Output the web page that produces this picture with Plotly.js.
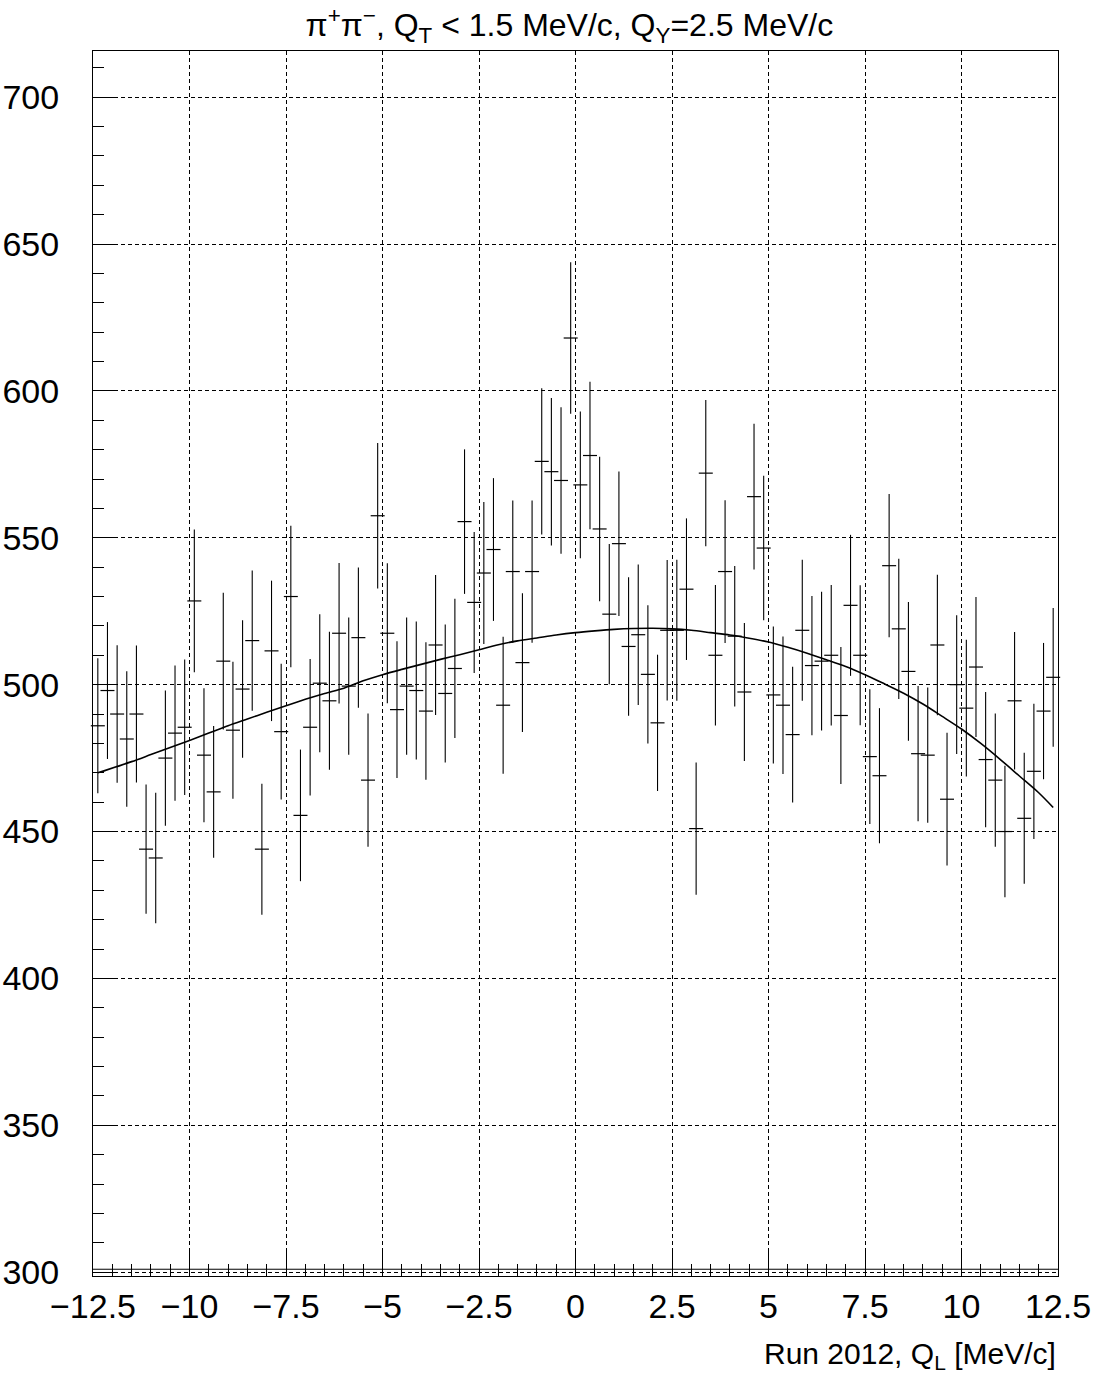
<!DOCTYPE html>
<html>
<head>
<meta charset="utf-8">
<script src="https://cdn.plot.ly/plotly-3.0.1.min.js"></script>
<style>
  html, body { margin: 0; padding: 0; background: #ffffff; }
  #chart { width: 1095px; height: 1381px; }
</style>
</head>
<body>
<div id="chart"></div>
<script>
// Bin centres (Q_L, MeV/c)
var binCenters = [
  -12.375, -12.125, -11.875, -11.625, -11.375, -11.125, -10.875, -10.625, -10.375, -10.125,
  -9.875, -9.625, -9.375, -9.125, -8.875, -8.625, -8.375, -8.125, -7.875, -7.625,
  -7.375, -7.125, -6.875, -6.625, -6.375, -6.125, -5.875, -5.625, -5.375, -5.125,
  -4.875, -4.625, -4.375, -4.125, -3.875, -3.625, -3.375, -3.125, -2.875, -2.625,
  -2.375, -2.125, -1.875, -1.625, -1.375, -1.125, -0.875, -0.625, -0.375, -0.125,
  0.125, 0.375, 0.625, 0.875, 1.125, 1.375, 1.625, 1.875, 2.125, 2.375,
  2.625, 2.875, 3.125, 3.375, 3.625, 3.875, 4.125, 4.375, 4.625, 4.875,
  5.125, 5.375, 5.625, 5.875, 6.125, 6.375, 6.625, 6.875, 7.125, 7.375,
  7.625, 7.875, 8.125, 8.375, 8.625, 8.875, 9.125, 9.375, 9.625, 9.875,
  10.125, 10.375, 10.625, 10.875, 11.125, 11.375, 11.625, 11.875, 12.125, 12.375
];

// Counts per bin
var counts = [
  486, 498, 490, 481.5, 490, 444, 441, 475, 483.5, 485.5,
  528.5, 476, 463.5, 508, 484.5, 498.5, 515, 444, 511.5, 484,
  530, 455.5, 485.5, 500.5, 494.5, 517.5, 499.5, 516, 467.5, 557.5,
  517.5, 491.5, 499.5, 498, 491, 513.5, 497, 505.5, 555.5, 528,
  538, 546, 493, 538.5, 507.5, 538.5, 576, 572.5, 569.5, 618,
  568, 578, 553, 524, 548, 513, 517, 503.5, 487, 518.5,
  518.5, 532.5, 451, 572, 510, 538.5, 516.5, 497.5, 564, 546.5,
  496.5, 493, 483, 518.5, 506.5, 508, 510, 489.5, 527, 510,
  475.5, 469, 540.5, 519, 504.5, 476.5, 476, 513.5, 461, 500,
  492, 506, 474.5, 467.5, 450, 494.5, 454.5, 470.5, 491, 502.5
];

// Error bar half-lengths per bin
var errors = [
  23.0, 23.3, 23.4, 23.1, 23.3, 22.0, 22.2, 23.0, 23.0, 23.1,
  24.3, 22.8, 22.4, 23.3, 23.3, 23.4, 23.9, 22.3, 23.9, 23.1,
  24.1, 22.4, 23.2, 23.5, 23.5, 23.9, 23.4, 23.9, 22.7, 24.8,
  23.8, 23.3, 23.4, 23.5, 23.4, 23.8, 23.5, 23.7, 24.6, 24.0,
  24.2, 24.3, 23.3, 24.2, 23.6, 24.2, 24.9, 25.1, 24.9, 25.8,
  25.0, 25.1, 24.6, 23.9, 24.6, 23.6, 23.9, 23.5, 23.2, 23.9,
  24.0, 24.1, 22.5, 24.9, 23.9, 24.3, 23.9, 23.5, 24.8, 24.6,
  23.3, 23.4, 23.1, 24.0, 23.7, 23.6, 23.9, 23.3, 24.0, 23.8,
  22.9, 23.0, 24.4, 23.9, 23.6, 23.0, 23.0, 23.9, 22.6, 23.6,
  23.3, 23.8, 23.0, 22.7, 22.4, 23.4, 22.3, 23.0, 23.2, 23.6
];

// Fit curve
var fitX = [
  -12.375, -11.5, -11, -10.5, -10, -9.5, -9, -8.5, -8, -7.5,
  -7, -6.5, -6, -5.5, -5, -4.5, -4, -3.5, -3, -2.5,
  -2, -1.5, -1, -0.5, 0, 0.5, 1, 1.5, 2, 2.5,
  3, 3.5, 4, 4.5, 5, 5.5, 6, 6.5, 7, 7.5,
  8, 8.5, 9, 9.5, 10, 10.5, 11, 11.5, 12, 12.375
];
var fitY = [
  470.0, 473.8, 476.2, 478.6, 481.0, 483.5, 486.0, 488.3, 490.6, 492.8,
  495.0, 497.0, 498.8, 501.3, 503.4, 505.2, 506.9, 508.6, 510.2, 511.9,
  513.6, 514.9, 515.9, 516.9, 517.7, 518.3, 518.8, 519.1, 519.2, 519.0,
  518.5, 517.7, 516.9, 515.8, 514.5, 512.7, 510.7, 508.5, 506.2, 503.4,
  500.3, 497.1, 493.4, 489.2, 484.9, 480.0, 474.6, 468.9, 463.2, 458.2
];

var xTickVals = [-12.5, -10, -7.5, -5, -2.5, 0, 2.5, 5, 7.5, 10, 12.5];
var xTickText = ["\u221212.5", "\u221210", "\u22127.5", "\u22125", "\u22122.5", "0", "2.5", "5", "7.5", "10", "12.5"];
var yTickVals = [300, 350, 400, 450, 500, 550, 600, 650, 700];

var titleText = "\u03c0<sup>+</sup>\u03c0<sup>\u2212</sup>, Q<sub>T</sub> &lt; 1.5 MeV/c, Q<sub>Y</sub>=2.5 MeV/c";
var xTitleText = "Run 2012, Q<sub>L</sub> [MeV/c]";

var FONT = "Liberation Sans, Arial, sans-serif";

var dataTrace = {
  type: "scatter",
  mode: "markers",
  x: binCenters,
  y: counts,
  marker: { symbol: "line-ew", size: 10, color: "black", line: { color: "black", width: 1.2 } },
  error_y: { type: "data", array: errors, visible: true, color: "black", thickness: 1.1, width: 0 },
  hoverinfo: "x+y",
  showlegend: false,
  cliponaxis: false
};

var fitTrace = {
  type: "scatter",
  mode: "lines",
  x: fitX,
  y: fitY,
  line: { color: "black", width: 1.6, shape: "spline", smoothing: 0.8 },
  showlegend: false,
  hoverinfo: "skip"
};

var layout = {
  width: 1095,
  height: 1381,
  margin: { l: 93, r: 37, t: 51, b: 105, pad: 0 },
  paper_bgcolor: "white",
  plot_bgcolor: "white",
  font: { family: FONT, color: "black", size: 34 },
  title: {
    text: titleText,
    font: { family: FONT, size: 32, color: "black" },
    x: 0.52, xref: "container", xanchor: "center",
    y: 0.982, yref: "container", yanchor: "middle"
  },
  xaxis: {
    range: [-12.5, 12.5],
    tickmode: "array",
    tickvals: xTickVals,
    ticktext: xTickText,
    ticks: "inside",
    ticklen: 24,
    tickwidth: 1,
    tickcolor: "black",
    minor: { dtick: 0.5, tick0: -12.5, ticks: "inside", ticklen: 12, tickwidth: 1, tickcolor: "black", showgrid: false },
    showgrid: true,
    gridcolor: "black",
    gridwidth: 1,
    griddash: "4px,3px",
    zeroline: false,
    showline: true,
    linecolor: "black",
    linewidth: 1,
    mirror: true,
    tickfont: { family: FONT, size: 34, color: "black" },
    ticklabelstandoff: 0,
    fixedrange: true
  },
  yaxis: {
    range: [298.7, 715.7],
    tickmode: "array",
    tickvals: yTickVals,
    ticks: "inside",
    ticklen: 22,
    tickwidth: 1,
    tickcolor: "black",
    minor: { dtick: 10, tick0: 300, ticks: "inside", ticklen: 11, tickwidth: 1, tickcolor: "black", showgrid: false },
    showgrid: true,
    gridcolor: "black",
    gridwidth: 1,
    griddash: "4px,3px",
    zeroline: false,
    showline: true,
    linecolor: "black",
    linewidth: 1,
    mirror: true,
    tickfont: { family: FONT, size: 34, color: "black" },
    ticklabelstandoff: 26,
    fixedrange: true
  },
  shapes: [
    { type: "line", xref: "paper", x0: 0, x1: 1, yref: "y", y0: 301.0, y1: 301.0,
      line: { color: "black", width: 1 } }
  ],
  annotations: [
    {
      text: xTitleText,
      xref: "paper", x: 1.0, xanchor: "right",
      yref: "paper", y: -0.0645, yanchor: "middle",
      showarrow: false,
      font: { family: FONT, size: 30, color: "black" }
    }
  ]
};

Plotly.newPlot("chart", [fitTrace, dataTrace], layout, { displayModeBar: false, staticPlot: true });
</script>
</body>
</html>
